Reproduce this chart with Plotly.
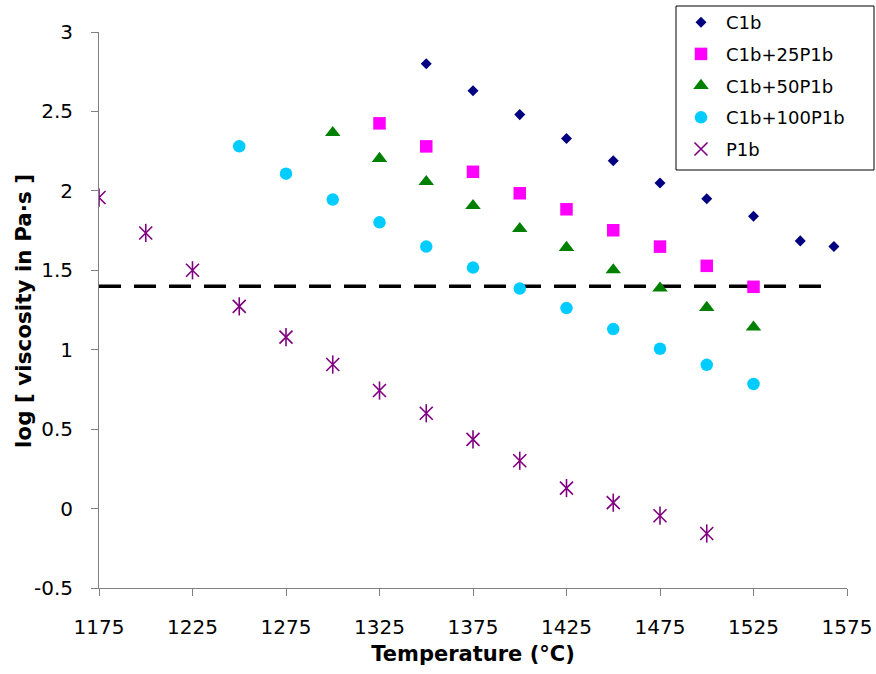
import plotly.graph_objects as go

# ---- data ----
temps_c1b = [1350, 1375, 1400, 1425, 1450, 1475, 1500, 1525, 1550, 1568]
visc_c1b = [2.80, 2.63, 2.48, 2.33, 2.19, 2.05, 1.95, 1.84, 1.685, 1.65]

temps_25 = [1325, 1350, 1375, 1400, 1425, 1450, 1475, 1500, 1525]
visc_25 = [2.425, 2.28, 2.12, 1.985, 1.884, 1.752, 1.649, 1.528, 1.396]

temps_50 = [1300, 1325, 1350, 1375, 1400, 1425, 1450, 1475, 1500, 1525]
visc_50 = [2.366, 2.203, 2.058, 1.907, 1.762, 1.643, 1.502, 1.387, 1.265, 1.142]

temps_100 = [1250, 1275, 1300, 1325, 1350, 1375, 1400, 1425, 1450, 1475, 1500, 1525]
visc_100 = [2.281, 2.108, 1.945, 1.802, 1.649, 1.517, 1.385, 1.262, 1.130, 1.006, 0.905, 0.784]

temps_p1b = [1175, 1200, 1225, 1250, 1275, 1300, 1325, 1350, 1375, 1400, 1425, 1450, 1475, 1500]
visc_p1b = [1.958, 1.735, 1.50, 1.273, 1.079, 0.907, 0.743, 0.600, 0.436, 0.301, 0.129, 0.037, -0.045, -0.157]

ref_x = [1175, 1568]
ref_y = [1.4, 1.4]

x_ticks = [1175, 1225, 1275, 1325, 1375, 1425, 1475, 1525, 1575]
y_ticks = [-0.5, 0, 0.5, 1, 1.5, 2, 2.5, 3]

x_title = "Temperature (°C)"
y_title = "log [ viscosity in Pa·s ]"

FONT = "DejaVu Sans, Arial, sans-serif"
W, H = 876, 674

fig = go.Figure()

fig.add_trace(go.Scatter(
    x=ref_x, y=ref_y, mode="lines", showlegend=False, hoverinfo="skip",
    line=dict(color="black", width=3.5, dash="22px,13px"),
))

fig.add_trace(go.Scatter(
    x=temps_c1b, y=visc_c1b, mode="markers", name="C1b", legendgroup="g1",
    marker=dict(symbol="diamond", size=8.5, color="#000080"),
))
fig.add_trace(go.Scatter(
    x=temps_25, y=visc_25, mode="markers", name="C1b+25P1b", legendgroup="g2",
    marker=dict(symbol="square", size=12.5, color="#FF00FF"),
))
fig.add_trace(go.Scatter(
    x=temps_50, y=visc_50, mode="markers", name="C1b+50P1b", legendgroup="g3",
    marker=dict(symbol="triangle-up", size=13.5, color="#008000"),
))
fig.add_trace(go.Scatter(
    x=temps_100, y=visc_100, mode="markers", name="C1b+100P1b", legendgroup="g4",
    marker=dict(symbol="circle", size=12.5, color="#00CCFF"),
))
fig.add_trace(go.Scatter(
    x=temps_p1b, y=visc_p1b, mode="markers", name="P1b", legendgroup="g5",
    marker=dict(symbol="x-thin-open", size=13,
                line=dict(color="#800080", width=1.6), color="#800080"),
))
fig.add_trace(go.Scatter(
    x=temps_p1b, y=visc_p1b, mode="markers", name="P1b", legendgroup="g5",
    showlegend=False, hoverinfo="skip",
    marker=dict(symbol="line-ns-open", size=13,
                line=dict(color="#800080", width=1.6), color="#800080"),
))

axis_common = dict(
    showgrid=False, zeroline=False, showline=True, linecolor="#808080",
    linewidth=1, ticks="outside", ticklen=7, tickcolor="#808080",
    tickfont=dict(family=FONT, size=20, color="black"),
    mirror=False, automargin=False,
)

plot_left, plot_right, plot_top, plot_bottom = 99, 847, 32, 588

fig.update_xaxes(
    range=[1175, 1575], tickvals=x_ticks, ticktext=[str(v) for v in x_ticks],
    domain=[plot_left / W, plot_right / W],
    title=dict(text=f"<b>{x_title}</b>",
               font=dict(family=FONT, size=21, color="black"), standoff=8),
    ticklabelstandoff=14,
    **axis_common,
)
fig.update_yaxes(
    range=[-0.5, 3], tickvals=y_ticks, ticktext=[f"{v:g}" for v in y_ticks],
    domain=[1 - plot_bottom / H, 1 - plot_top / H],
    ticklabelstandoff=14,
    **axis_common,
)

# y-axis title as rotated annotation (placed in the left margin)
fig.add_annotation(
    text=f"<b>{y_title}</b>", textangle=-90, showarrow=False,
    xref="paper", yref="paper", x=23 / W, y=1 - 311 / H,
    xanchor="center", yanchor="middle",
    font=dict(family=FONT, size=21.5, color="black"),
)

# legend frame (layout decoration)
legend_box = dict(x0=676 / W, x1=874 / W, y0=1 - 170 / H, y1=1 - 6 / H)

fig.update_layout(
    width=W, height=H,
    margin=dict(l=0, r=0, t=0, b=0, pad=0),
    paper_bgcolor="white", plot_bgcolor="white",
    font=dict(family=FONT, size=18, color="black"),
    legend=dict(
        x=676 / W, y=1 - 4 / H, xanchor="left", yanchor="top",
        borderwidth=0, bgcolor="rgba(0,0,0,0)",
        font=dict(family=FONT, size=18, color="black"),
        tracegroupgap=5.3, itemwidth=40, traceorder="grouped",
    ),
    shapes=[dict(type="rect", xref="paper", yref="paper",
                 line=dict(color="black", width=1), fillcolor="rgba(0,0,0,0)",
                 **legend_box)],
)

fig.write_html(
    "out.html",
    config={"displayModeBar": False},
    post_script="document.body.style.margin='0';document.body.style.overflow='hidden';",
)
